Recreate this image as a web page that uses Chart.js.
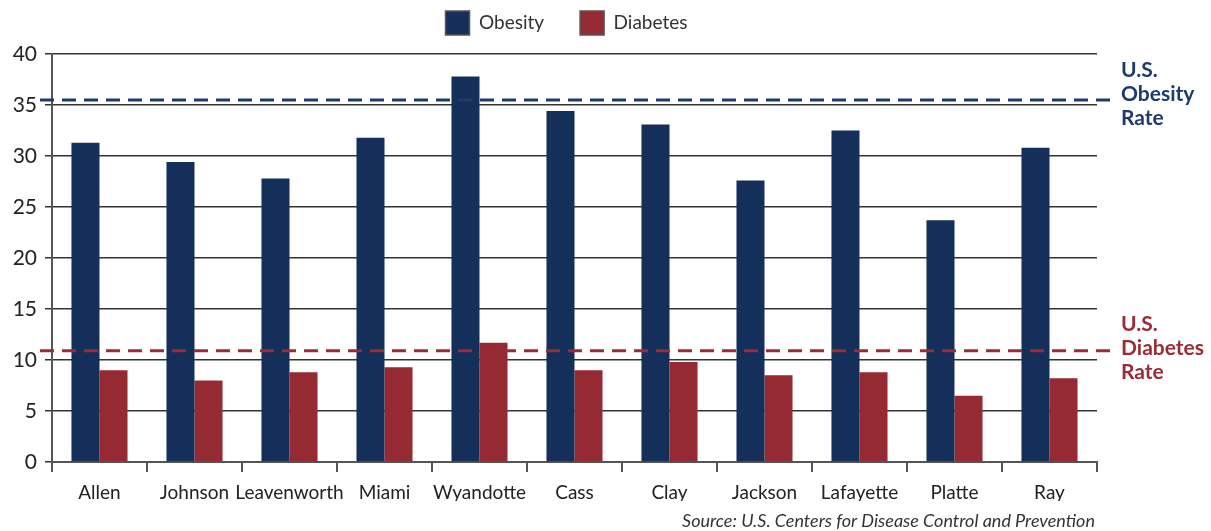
<!DOCTYPE html>
<html lang="en">
<head>
    <meta charset="UTF-8">
    <title>Obesity and Diabetes by County</title>
    <script src="https://cdn.jsdelivr.net/npm/chart.js"></script>
    <style>
        body {
            margin: 0;
            background-color: #ffffff;
        }

        .chart-box {
            width: 1211px;
            height: 531px;
        }
    </style>
</head>
<body>
    <div class="chart-box">
        <canvas id="ratesChart"></canvas>
    </div>

    <script>
        // Chart data
        const counties = ['Allen', 'Johnson', 'Leavenworth', 'Miami', 'Wyandotte', 'Cass', 'Clay', 'Jackson', 'Lafayette', 'Platte', 'Ray'];
        const obesity = [31.3, 29.4, 27.8, 31.8, 37.8, 34.4, 33.1, 27.6, 32.5, 23.7, 30.8];
        const diabetes = [9.0, 8.0, 8.8, 9.3, 11.7, 9.0, 9.8, 8.5, 8.8, 6.5, 8.2];
        const usObesityRate = 35.5;
        const usDiabetesRate = 10.9;
        const yTicks = [0, 5, 10, 15, 20, 25, 30, 35, 40];

        const navy = '#14305a';
        const maroon = '#962a32';

        // Dashed national-rate lines plus their labels on the right
        const rateLines = {
            id: 'rateLines',
            afterDatasetsDraw(chart) {
                const ctx = chart.ctx;
                const y = chart.scales.y;
                const lines = [
                    { value: usObesityRate, color: '#1d3c6b', text: ['U.S.', 'Obesity', 'Rate'], textTop: 70 },
                    { value: usDiabetesRate, color: '#9c2b35', text: ['U.S.', 'Diabetes', 'Rate'], textTop: 324 }
                ];
                ctx.save();
                lines.forEach(line => {
                    const py = y.getPixelForValue(line.value);
                    ctx.strokeStyle = line.color;
                    ctx.lineWidth = 3;
                    ctx.setLineDash([14, 8]);
                    ctx.beginPath();
                    ctx.moveTo(40, py);
                    ctx.lineTo(1110, py);
                    ctx.stroke();

                    ctx.setLineDash([]);
                    ctx.fillStyle = line.color;
                    ctx.font = 'bold 21px Lato';
                    ctx.textBaseline = 'middle';
                    ctx.textAlign = 'left';
                    line.text.forEach((t, i) => {
                        ctx.fillText(t, 1121, line.textTop + i * 24);
                    });
                });

                // Source note
                ctx.fillStyle = '#333333';
                ctx.font = 'italic 18px Lato';
                ctx.textAlign = 'right';
                ctx.textBaseline = 'middle';
                ctx.fillText('Source: U.S. Centers for Disease Control and Prevention', 1095, 521);
                ctx.restore();
            }
        };

        // Fix legend height so the plot starts where the original does,
        // and move the legend row up and slightly right like the original
        const legendHeight = {
            id: 'legendHeight',
            beforeInit(chart) {
                const legend = chart.legend;
                const fit = legend.fit;
                legend.fit = function () {
                    fit.bind(legend)();
                    this.height = 54;
                };
                const draw = legend.draw;
                legend.draw = function () {
                    const bottom = this.bottom;
                    const height = this.height;
                    this.bottom += 40;
                    this.height += 40;
                    chart.ctx.save();
                    chart.ctx.translate(18, -25);
                    draw.bind(legend)();
                    chart.ctx.restore();
                    this.bottom = bottom;
                    this.height = height;
                };
            }
        };

        const ratesChart = new Chart(document.getElementById('ratesChart'), {
            type: 'bar',
            data: {
                labels: counties,
                datasets: [
                    {
                        label: 'Obesity',
                        data: obesity,
                        backgroundColor: navy,
                        categoryPercentage: 0.59,
                        barPercentage: 1.0
                    },
                    {
                        label: 'Diabetes',
                        data: diabetes,
                        backgroundColor: maroon,
                        categoryPercentage: 0.59,
                        barPercentage: 1.0
                    }
                ]
            },
            options: {
                responsive: true,
                maintainAspectRatio: false,
                animation: false,
                layout: {
                    padding: { left: 0, right: 114, top: 0, bottom: 30 }
                },
                plugins: {
                    tooltip: { enabled: false },
                    legend: {
                        position: 'top',
                        labels: {
                            boxWidth: 24,
                            boxHeight: 24,
                            padding: 36,
                            color: '#333333',
                            font: { family: 'Lato', size: 19 },
                            generateLabels(chart) {
                                return chart.data.datasets.map((ds, i) => ({
                                    text: ds.label,
                                    fillStyle: ds.backgroundColor,
                                    strokeStyle: '#555555',
                                    lineWidth: 1.5,
                                    fontColor: '#333333',
                                    datasetIndex: i
                                }));
                            }
                        }
                    }
                },
                scales: {
                    x: {
                        afterFit(scale) { scale.height = 39; },
                        grid: {
                            offset: true,
                            drawOnChartArea: false,
                            drawTicks: true,
                            tickLength: 10,
                            color: '#555555',
                            lineWidth: 2
                        },
                        border: { display: true, color: '#555555', width: 2 },
                        ticks: {
                            color: '#222222',
                            font: { family: 'Lato', size: 19 },
                            padding: 9,
                            maxRotation: 0,
                            autoSkip: false
                        }
                    },
                    y: {
                        min: 0,
                        max: 40,
                        afterFit(scale) { scale.width = 52; },
                        afterBuildTicks(scale) {
                            scale.ticks = yTicks.map(v => ({ value: v }));
                        },
                        grid: {
                            color: '#333333',
                            lineWidth: 1.5,
                            tickLength: 7
                        },
                        border: { display: true, color: '#555555', width: 2 },
                        ticks: {
                            color: '#222222',
                            font: { family: 'Lato', size: 21 },
                            padding: 8
                        }
                    }
                }
            },
            plugins: [legendHeight, rateLines]
        });
    </script>
</body>
</html>
